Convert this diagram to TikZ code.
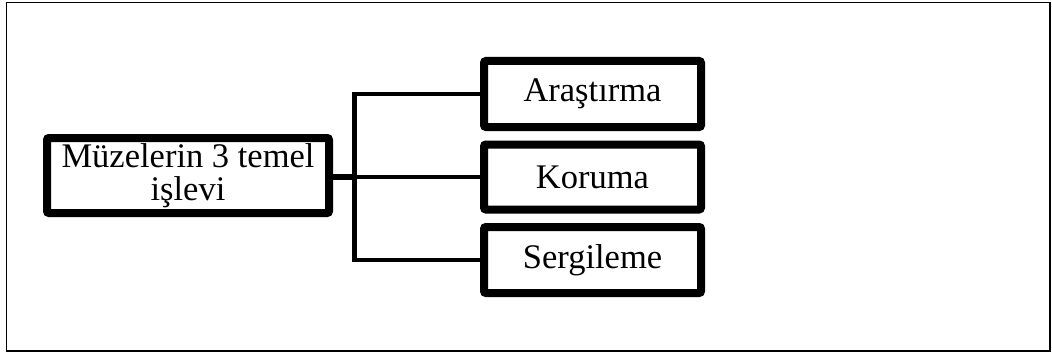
\documentclass[tikz,border=0pt]{standalone}
\usepackage{fontspec}
\setmainfont{Liberation Serif}
\usetikzlibrary{shadows}
\begin{document}
\begin{tikzpicture}[x=1pt,y=-1pt,
  boxstyle/.style={draw=black, line width=8pt, fill=white, rounded corners=2pt,
    inner sep=0pt, outer sep=0pt, align=center,
    font=\fontsize{34.5}{33}\selectfont,
    drop shadow={opacity=0.25, shadow xshift=1pt, shadow yshift=-3pt}},
  conn/.style={draw=black, line width=4.5pt},
  stub/.style={draw=black, line width=6pt}]
\useasboundingbox (0,0) rectangle (1052,353);
\draw[line width=1.5pt] (6.5,2.5) rectangle (1050,351);
\node[boxstyle, minimum width=282pt, minimum height=75pt] (L) at (188,175.5)
  {Müzelerin 3 temel\\işlevi};
\node[boxstyle, minimum width=217pt, minimum height=66pt] (A) at (592.5,94) {Araştırma};
\node[boxstyle, minimum width=217pt, minimum height=65pt] (K) at (592.5,177) {Koruma};
\node[boxstyle, minimum width=217pt, minimum height=66pt] (S) at (592.5,260) {Sergileme};
\coordinate (sp) at (354.5,177);
\draw[conn] (A.west) -- (A.west -| sp) -- (S.west -| sp) -- (S.west);
\draw[conn] (sp) -- (K.west);
\draw[stub] (L.east |- K.west) -- (sp);
\end{tikzpicture}
\end{document}
